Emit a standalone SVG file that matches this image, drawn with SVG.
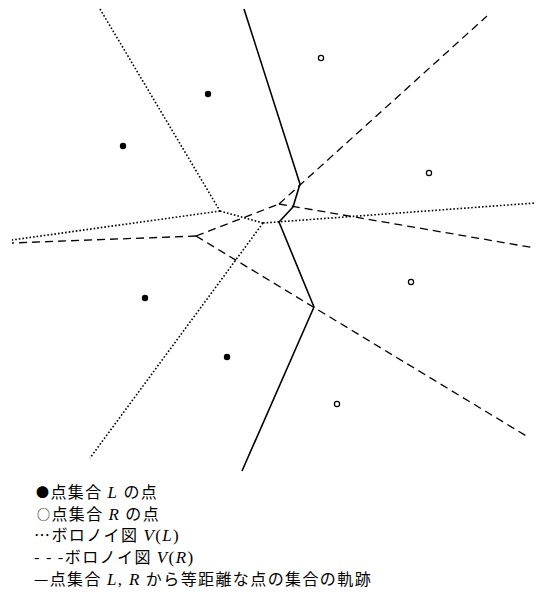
<svg xmlns="http://www.w3.org/2000/svg" width="537" height="602" viewBox="0 0 537 602">
<style>
.vl{fill:none;stroke:#000;stroke-width:1.6;stroke-dasharray:1.6 2}
.vr{fill:none;stroke:#000;stroke-width:1.3;stroke-dasharray:8 5}
.loc{fill:none;stroke:#000;stroke-width:1.6;stroke-linejoin:round}
.pl{fill:#000}
.pr{fill:#fff;stroke:#000;stroke-width:1.2}
.t{font-family:"Noto Sans CJK JP","Noto Sans",sans-serif;font-size:16px;letter-spacing:1.4px;fill:#000}
.m{font-family:"Liberation Serif",serif;font-style:italic;font-size:17px}
.p{font-family:"Liberation Serif",serif;font-size:17px}
.s{font-size:13px}
</style>
<rect width="537" height="602" fill="#fff"/>
<g id="connectors">
  <g id="voronoi-L">
    <path class="vl" d="M100,9 L220,211"/>
    <path class="vl" d="M220,211 L12,240"/>
    <path class="vl" d="M220,211 L263,223"/>
    <path class="vl" d="M263,223 L90,458"/>
    <path class="vl" d="M263,223 L535,203"/>
  </g>
  <g id="voronoi-R">
    <path class="vr" d="M196,236 L12,243"/>
    <path class="vr" d="M196,236 L279,204"/>
    <path class="vr" d="M196,236 L528,437"/>
    <path class="vr" d="M279,204 L487,16"/>
    <path class="vr" d="M279,204 L535,248"/>
  </g>
  <g id="locus">
    <path class="loc" d="M244,9 L300,184 L293,207 L279,222 L314,307 L242,471"/>
  </g>
</g>
<g id="points-L">
  <circle class="pl" cx="208" cy="94" r="3.2"/>
  <circle class="pl" cx="123" cy="146" r="3.2"/>
  <circle class="pl" cx="145" cy="298" r="3.2"/>
  <circle class="pl" cx="227" cy="357" r="3.2"/>
</g>
<g id="points-R">
  <circle class="pr" cx="321" cy="58" r="2.6"/>
  <circle class="pr" cx="429" cy="173" r="2.6"/>
  <circle class="pr" cx="411" cy="282" r="2.6"/>
  <circle class="pr" cx="337" cy="404" r="2.6"/>
</g>
<g id="legend">
  <text class="t" x="36" y="498"><tspan class="s" dy="-1">●</tspan><tspan dy="1">点集合 </tspan><tspan class="m">L</tspan> の点</text>
  <text class="t" x="37" y="520"><tspan class="s" dy="-1">○</tspan><tspan dy="1">点集合 </tspan><tspan class="m">R</tspan> の点</text>
  <text class="t" x="34" y="541">…ボロノイ図 <tspan class="m">V</tspan><tspan class="p">(</tspan><tspan class="m">L</tspan><tspan class="p">)</tspan></text>
  <text class="t" x="34" y="563">- - -ボロノイ図 <tspan class="m">V</tspan><tspan class="p">(</tspan><tspan class="m">R</tspan><tspan class="p">)</tspan></text>
  <text class="t" x="34" y="585">—点集合 <tspan class="m">L</tspan><tspan class="p">, </tspan><tspan class="m">R</tspan> から等距離な点の集合の軌跡</text>
</g>
</svg>
